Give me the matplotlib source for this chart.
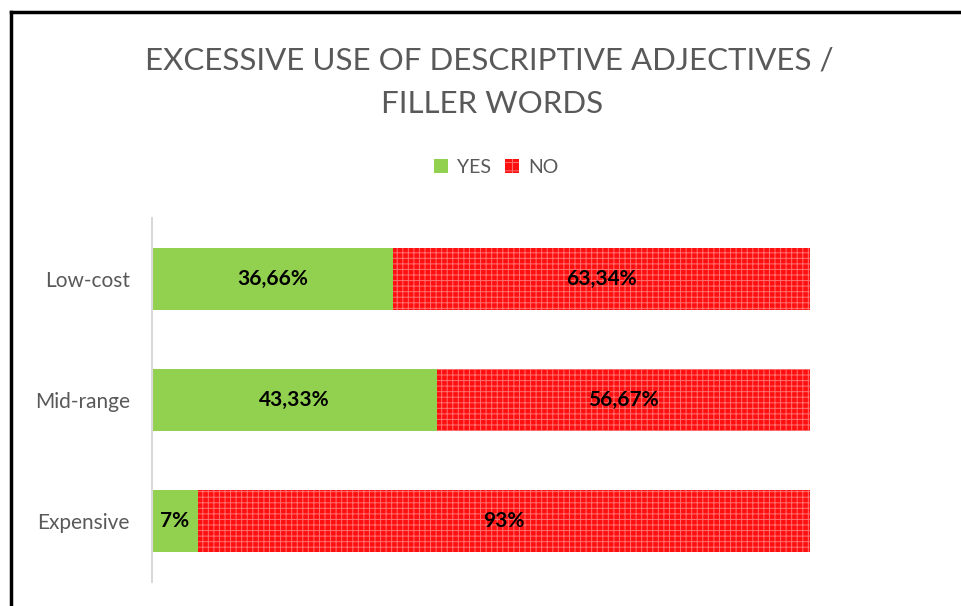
import numpy as np
import matplotlib.pyplot as plt
from matplotlib.patches import Patch

plt.rcParams['font.family'] = ['Lato', 'DejaVu Sans']
plt.rcParams['hatch.linewidth'] = 0.7

categories = ["Low-cost", "Mid-range", "Expensive"]
yes_vals = [36.66, 43.33, 7]
no_vals = [63.34, 56.67, 93]
yes_labels = ["36,66%", "43,33%", "7%"]
no_labels = ["63,34%", "56,67%", "93%"]

green = "#92d050"
red = "#ff1010"
grey = "#595959"

fig = plt.figure(figsize=(9.61, 6.06), dpi=100)
ax = fig.add_axes([0.1582, 0.0396, 0.6847, 0.6007])

ypos = np.arange(len(categories))
ax.barh(ypos, yes_vals, height=0.51, color=green, linewidth=0)
ax.barh(ypos, no_vals, left=yes_vals, height=0.51, color=red,
        edgecolor="#ff7070", hatch="+++", linewidth=0)

for i in range(len(categories)):
    ax.text(yes_vals[i] / 2, ypos[i], yes_labels[i], ha="center", va="center",
            fontsize=15, fontweight="bold", color="black")
    ax.text(yes_vals[i] + no_vals[i] / 2, ypos[i], no_labels[i], ha="center",
            va="center", fontsize=15, fontweight="bold", color="black")

ax.set_xlim(0, 100)
ax.set_ylim(2.5, -0.5)
ax.set_yticks(ypos)
ax.set_yticklabels(categories, fontsize=15, color=grey)
ax.tick_params(axis="y", length=0, pad=16)
ax.set_xticks([])
for s in ["top", "right", "bottom"]:
    ax.spines[s].set_visible(False)
ax.spines["left"].set_color("#d9d9d9")
ax.spines["left"].set_linewidth(1.5)

fig.text(0.509, 0.886, "EXCESSIVE USE OF DESCRIPTIVE ADJECTIVES /",
         ha="center", va="baseline", fontsize=22.5, color=grey)
fig.text(0.512, 0.8135, "FILLER WORDS",
         ha="center", va="baseline", fontsize=22.5, color=grey)

handles = [Patch(facecolor=green, linewidth=0),
           Patch(facecolor=red, edgecolor="#ff7070", hatch="++", linewidth=0)]
fig.legend(handles, ["YES", "NO"], loc="center", bbox_to_anchor=(0.516, 0.724),
           ncol=2, frameon=False, fontsize=14, labelcolor=grey,
           handlelength=0.75, handleheight=0.75, handletextpad=0.45, columnspacing=0.7)

# chart frame line along top and left edge
fig.add_artist(plt.Line2D([0.0115, 0.0115], [0, 0.98], color="black", lw=2.5,
                          transform=fig.transFigure))
fig.add_artist(plt.Line2D([0.0115, 1.0], [0.98, 0.98], color="black", lw=2.5,
                          transform=fig.transFigure))

fig.savefig("out.png", dpi=100)
